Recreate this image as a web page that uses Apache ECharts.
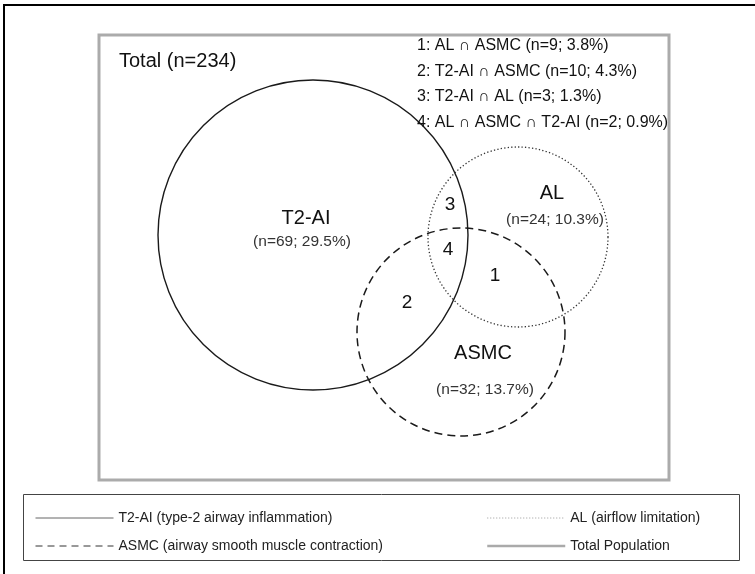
<!DOCTYPE html>
<html><head><meta charset="utf-8">
<script src="https://cdn.jsdelivr.net/npm/echarts@6/dist/echarts.min.js"></script>
<style>html,body{margin:0;padding:0;background:#fff}#c{width:755px;height:574px}</style>
</head><body><div id="c"></div>
<script>
// ---- data ----
const totalN = 234;
const setNames = ['T2-AI', 'AL', 'ASMC'];
const setCounts = [69, 24, 32];
const setPcts = ['29.5%', '10.3%', '13.7%'];
const interNames = ['AL \u2229 ASMC', 'T2-AI \u2229 ASMC', 'T2-AI \u2229 AL', 'AL \u2229 ASMC \u2229 T2-AI'];
const interCounts = [9, 10, 3, 2];
const interPcts = ['3.8%', '4.3%', '1.3%', '0.9%'];
const legendNames = ['T2-AI (type-2 airway inflammation)', 'ASMC (airway smooth muscle contraction)', 'AL (airflow limitation)', 'Total Population'];

// ---- layout (diagram units) ----
const circleX = [313, 518, 461];
const circleY = [235, 237, 332];
const circleR = [155, 90, 104];
const nameX = [306, 552, 483], nameY = [218, 193, 353];
const countX = [302, 555, 485], countY = [242, 220, 390];
const regionX = [495, 407, 450, 448], regionY = [276, 303, 205, 250];
const listX = 417, listY = [46, 72, 97, 123];
const box = [99, 35, 669, 480];

// ---- styles ----
const FONT = '"Liberation Sans", Arial, Helvetica, sans-serif';
const circleStroke = ['#1a1a1a', '#333', '#1a1a1a'];
const circleWidth = [1.4, 1.3, 1.5];
const circleDash = [null, [1.3, 2.2], [8, 5]];
const legendLine = [
  { color: '#666', width: 1, type: 'solid' },
  { color: '#333', width: 1, type: [7, 5] },
  { color: '#999', width: 1, type: [1, 2] },
  { color: '#aaa', width: 2.5, type: 'solid' }
];

const circleData = circleX.map((x, i) => [x, circleY[i], circleR[i], i]);

const texts = [];
texts.push({ value: [119, 61], text: 'Total (n=' + totalN + ')', size: 20, align: 'left' });
interNames.forEach((n, i) => texts.push({ value: [listX, listY[i]], text: (i + 1) + ': ' + n + ' (n=' + interCounts[i] + '; ' + interPcts[i] + ')', size: 16, align: 'left' }));
setNames.forEach((n, i) => {
  texts.push({ value: [nameX[i], nameY[i]], text: n, size: 20, align: 'center' });
  texts.push({ value: [countX[i], countY[i]], text: '(n=' + setCounts[i] + '; ' + setPcts[i] + ')', size: 15.5, align: 'center', color: '#333' });
});
regionX.forEach((x, i) => texts.push({ value: [x, regionY[i]], text: String(i + 1), size: 19, align: 'center' }));

const legendCommon = { orient: 'vertical', itemWidth: 78, itemHeight: 14, itemGap: 14, selectedMode: false,
  itemStyle: { opacity: 0 },
  textStyle: { fontSize: 14, fontFamily: FONT, color: '#222' } };
const legendItem = i => ({ name: legendNames[i], lineStyle: legendLine[i], itemStyle: { opacity: 0 } });

const chart = echarts.init(document.getElementById('c'), null, { renderer: 'canvas' });
chart.setOption({
  backgroundColor: '#fff',
  animation: false,
  grid: { left: 0, top: 0, right: 0, bottom: 0 },
  xAxis: { type: 'value', min: 0, max: 755, show: false },
  yAxis: { type: 'value', min: 0, max: 574, inverse: true, show: false },
  legend: [
    Object.assign({ data: [legendItem(0), legendItem(1)], left: 30, top: 506 }, legendCommon),
    Object.assign({ data: [legendItem(2), legendItem(3)], left: 481, top: 506 }, legendCommon)
  ],
  graphic: [
    { type: 'line', shape: { x1: 3, y1: 5, x2: 755, y2: 5 }, style: { stroke: '#000', lineWidth: 2 } },
    { type: 'line', shape: { x1: 4, y1: 4, x2: 4, y2: 574 }, style: { stroke: '#000', lineWidth: 2 } },
    { type: 'rect', shape: { x: 23.5, y: 494.5, width: 716, height: 66 }, style: { fill: 'none', stroke: '#444', lineWidth: 1 } }
  ],
  series: [
    { type: 'custom', name: 'box', silent: true, clip: false,
      data: [box],
      renderItem: (p, api) => {
        const a = api.coord([api.value(0), api.value(1)]);
        const b = api.coord([api.value(2), api.value(3)]);
        return { type: 'rect', shape: { x: a[0], y: a[1], width: b[0] - a[0], height: b[1] - a[1] },
          style: { fill: 'none', stroke: '#ababab', lineWidth: 3 } };
      } },
    { type: 'custom', name: 'circles', silent: true, clip: false,
      data: circleData,
      renderItem: (p, api) => {
        const c = api.coord([api.value(0), api.value(1)]);
        const r = api.size([api.value(2), 0])[0];
        const i = api.value(3);
        return { type: 'circle', shape: { cx: c[0], cy: c[1], r: r },
          style: { fill: 'none', stroke: circleStroke[i], lineWidth: circleWidth[i], lineDash: circleDash[i] } };
      } },
    { type: 'custom', name: 'labels', silent: true, clip: false,
      data: texts,
      renderItem: (p, api) => {
        const t = texts[p.dataIndex];
        const c = api.coord(t.value);
        return { type: 'text', x: c[0], y: c[1],
          style: { text: t.text, fontSize: t.size, fontFamily: FONT, fill: t.color || '#111', align: t.align, verticalAlign: 'middle' } };
      } }
  ].concat(legendNames.map((n, i) => ({ type: 'line', name: n, data: [], symbol: 'none', lineStyle: legendLine[i] })))
});
</script></body></html>
